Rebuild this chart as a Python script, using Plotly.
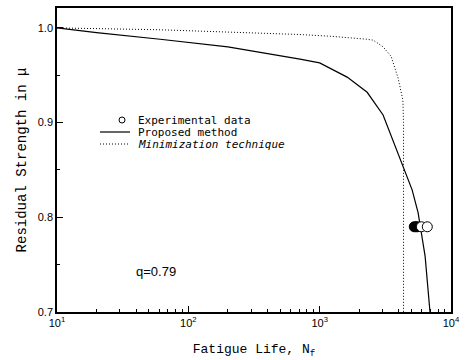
import plotly.graph_objects as go

# Data
proposed_N = [10, 20, 61, 200, 708, 1000, 1618, 2300, 3040, 4300, 5058, 5615, 6350, 6920]
proposed_R = [1.0, 0.995, 0.988, 0.980, 0.967, 0.963, 0.948, 0.932, 0.908, 0.854, 0.829, 0.805, 0.759, 0.70]

minim_N = [10, 61, 708, 1260, 2296, 2560, 3040, 3500, 3954, 4200, 4300, 4350, 4350]
minim_R = [1.0, 0.998, 0.993, 0.991, 0.988, 0.987, 0.980, 0.970, 0.947, 0.930, 0.924, 0.900, 0.70]

exp_N = [5250, 5400, 5550, 5950, 6600]
exp_R = [0.79, 0.79, 0.79, 0.79, 0.79]
exp_fill = ["black", "black", "black", "white", "white"]

x_ticks = [10, 100, 1000, 10000]
x_ticktext = ["10<sup>1</sup>", "10<sup>2</sup>", "10<sup>3</sup>", "10<sup>4</sup>"]
y_ticks = [0.7, 0.8, 0.9, 1.0]
y_ticktext = ["0.7", "0.8", "0.9", "1.0"]

legend_names = ["Experimental data", "Proposed method", "<i>Minimization technique</i>"]

DOT = "1px,2px"

fig = go.Figure()
fig.add_trace(go.Scatter(x=minim_N, y=minim_R, mode="lines",
                         line=dict(color="black", width=1, dash=DOT),
                         name="Minimization technique", showlegend=False))
fig.add_trace(go.Scatter(x=proposed_N, y=proposed_R, mode="lines",
                         line=dict(color="black", width=1.2),
                         name="Proposed method", showlegend=False))
fig.add_trace(go.Scatter(x=exp_N, y=exp_R, mode="markers",
                         marker=dict(symbol="circle", size=10, color=exp_fill,
                                     line=dict(color="black", width=1)),
                         name="Experimental data", showlegend=False))

W, H = 469, 360
ml, mr, mt, mb = 57, 18, 8, 48
pw, ph = W - ml - mr, H - mt - mb


def px(x):
    return (x - ml) / pw


def py(y):
    return 1 - (y - mt) / ph


# manual legend
leg_font = dict(family="DejaVu Sans Mono", size=11, color="black")
lx0, lx1, tx = 100, 130, 137
rows = [120, 132, 144]
fig.add_shape(type="circle", xref="paper", yref="paper",
              x0=px(119), x1=px(125), y0=py(rows[0] - 3), y1=py(rows[0] + 3),
              line=dict(color="black", width=1), fillcolor="white")
fig.add_shape(type="line", xref="paper", yref="paper",
              x0=px(lx0), x1=px(lx1), y0=py(rows[1]), y1=py(rows[1]),
              line=dict(color="black", width=1.2))
fig.add_shape(type="line", xref="paper", yref="paper",
              x0=px(lx0), x1=px(lx1), y0=py(rows[2]), y1=py(rows[2]),
              line=dict(color="black", width=1, dash=DOT))
for txt, r in zip(legend_names, rows):
    fig.add_annotation(xref="paper", yref="paper", x=px(tx), y=py(r), text=txt,
                       showarrow=False, xanchor="left", yanchor="middle",
                       borderpad=0, font=leg_font)

fig.add_annotation(xref="paper", yref="paper", x=px(156), y=py(271), text="q=0.79",
                   showarrow=False, xanchor="center", yanchor="middle",
                   font=dict(family="Liberation Sans", size=13, color="black"))

fig.update_xaxes(type="log", range=[1, 4], tickvals=x_ticks, ticktext=x_ticktext,
                 ticks="inside", ticklen=6, tickcolor="black", tickwidth=1,
                 minor=dict(ticks="inside", ticklen=3, tickcolor="black",
                            tickvals=[k * 10 ** e for e in (1, 2, 3) for k in range(2, 10)]),
                 showgrid=False, zeroline=False, automargin=False,
                 showline=True, linecolor="black", linewidth=1.5, mirror=True,
                 tickfont=dict(family="Liberation Sans", size=11, color="black"),
                 title=dict(text="Fatigue Life, N<sub>f</sub>", standoff=16,
                            font=dict(family="Liberation Mono", size=13, color="black")))
fig.update_yaxes(range=[0.7, 1.021], tickvals=y_ticks, ticktext=y_ticktext,
                 ticks="inside", ticklen=6, tickcolor="black", tickwidth=1,
                 minor=dict(ticks="inside", ticklen=3, tickcolor="black",
                            tickvals=[0.75, 0.85, 0.95]),
                 showgrid=False, zeroline=False, automargin=False,
                 showline=True, linecolor="black", linewidth=1.5, mirror=True,
                 tickfont=dict(family="Liberation Sans", size=11, color="black"),
                 title=dict(text="Residual Strength in μ", standoff=8,
                            font=dict(family="Liberation Mono", size=14, color="black")))

fig.update_layout(width=W, height=H, margin=dict(l=ml, r=mr, t=mt, b=mb),
                  paper_bgcolor="white", plot_bgcolor="white", showlegend=False)

fig.write_html("out.html", config={"displayModeBar": False},
               post_script="document.body.style.margin='0';")
